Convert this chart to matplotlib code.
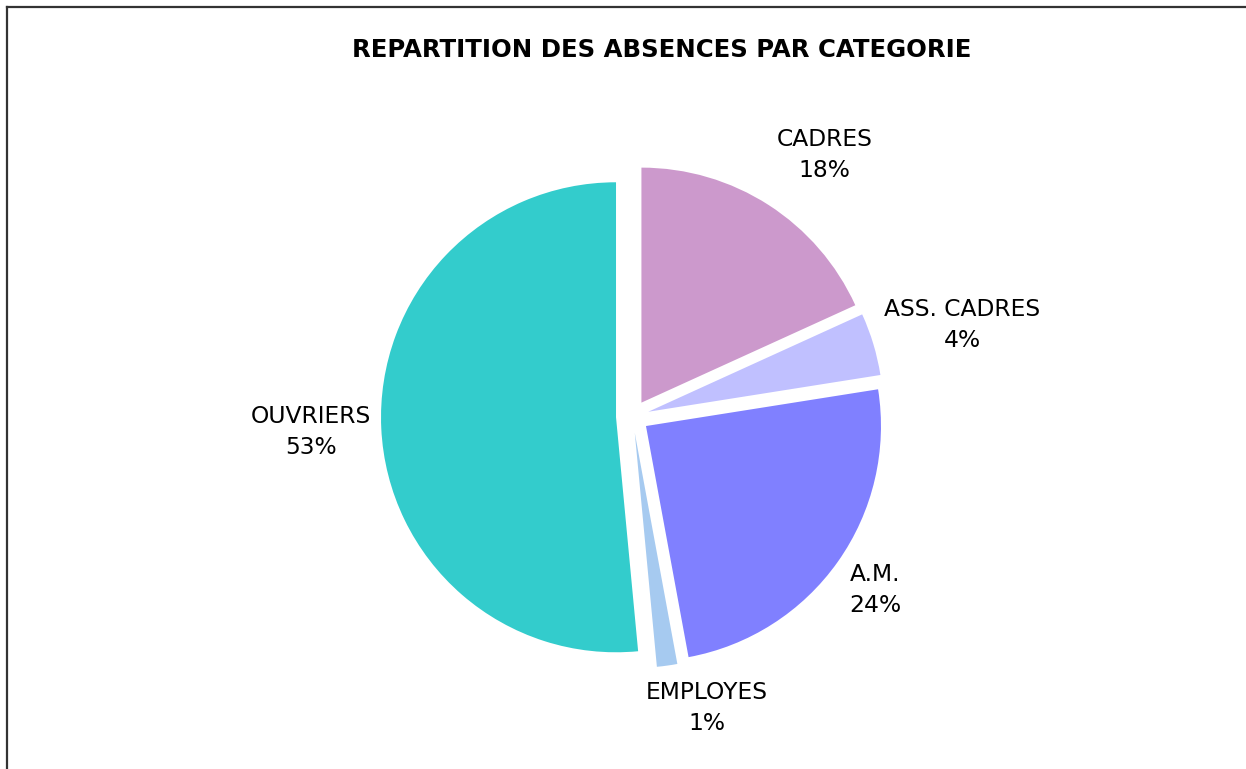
import numpy as np
import matplotlib.pyplot as plt
from matplotlib.lines import Line2D

# categories, clockwise from 12 o'clock
categories = ['CADRES', 'ASS. CADRES', 'A.M.', 'EMPLOYES', 'OUVRIERS']
pct_labels = ['18%', '4%', '24%', '1%', '53%']
# slice sizes as drawn in the picture (the wedges don't quite match the printed labels)
slice_sizes = [18.2, 4.3, 24.6, 1.4, 51.5]
colors = ['#CC99CC', '#C0C0FF', '#8080FF', '#A6CAF0', '#33CCCC']

# label distance (in radii, from the exploded wedge centre) and angle tweak (deg)
label_dist = [1.31, 1.385, 1.20, 1.21, 1.30]
label_turn = [-3.8, -1.3, -0.3, 6.7, 0]

W, H = 1246, 769
fig = plt.figure(figsize=(W / 100, H / 100), dpi=100)
ax = fig.add_axes([0, 0, 1, 1])

radius = 235
center = (632.5, H - 416.5)
wedges, _ = ax.pie(slice_sizes, colors=colors, startangle=90, counterclock=False,
                   radius=radius, center=center, explode=[16.5] * len(slice_sizes),
                   wedgeprops=dict(linewidth=0), frame=True)
ax.set_xlim(0, W)
ax.set_ylim(0, H)
ax.set_aspect('equal')
ax.axis('off')

for w, name, lab, d, t in zip(wedges, categories, pct_labels, label_dist, label_turn):
    ang = np.deg2rad((w.theta1 + w.theta2) / 2 + t)
    cx, cy = w.center
    x = cx + d * w.r * np.cos(ang)
    y = cy + d * w.r * np.sin(ang)
    ax.text(x, y, f'{name}\n{lab}', ha='center', va='center',
            fontsize=16.8, linespacing=1.45, color='black')

fig.text(0.531, 1 - 50 / H, 'REPARTITION DES ABSENCES PAR CATEGORIE',
         ha='center', va='center', fontsize=17.6, fontweight='bold')

# chart frame (only top and left edges are visible)
fig.add_artist(Line2D([7 / W, 7 / W], [0, 1 - 7 / H], transform=fig.transFigure,
                      color='#333333', linewidth=1.6))
fig.add_artist(Line2D([7 / W, 1], [1 - 7 / H, 1 - 7 / H], transform=fig.transFigure,
                      color='#333333', linewidth=1.6))

fig.savefig('out.png', dpi=100)
